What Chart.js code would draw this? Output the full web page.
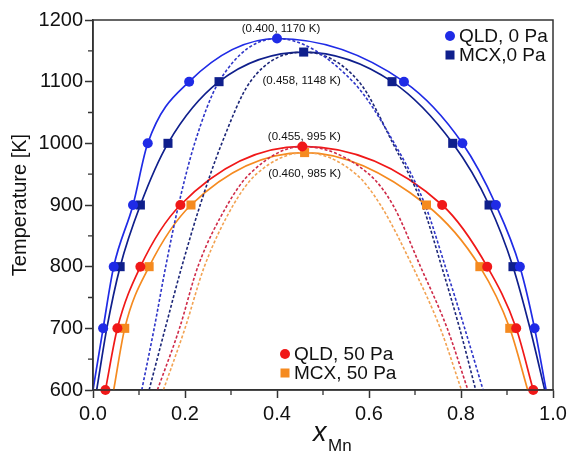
<!DOCTYPE html>
<html><head><meta charset="utf-8">
<script src="https://cdn.jsdelivr.net/npm/chart.js@4/dist/chart.umd.min.js"></script>
<style>html,body{margin:0;padding:0;background:#fff;}#wrap{width:570px;height:456px;position:relative;}</style>
</head><body><div id="wrap"><canvas id="c" width="570" height="456"></canvas></div>
<script>
// ---- tick values ----
const xTickValues = [0, 0.2, 0.4, 0.6, 0.8, 1.0];
const xMinorTicks = [0.1, 0.3, 0.5, 0.7, 0.9];
const yTickValues = [600, 700, 800, 900, 1000, 1100, 1200];
const yMinorTicks = [650, 750, 850, 950, 1050, 1150];

// ---- markers (data points) ----
const qld0X = [0.022, 0.045, 0.087, 0.119, 0.209, 0.400, 0.676, 0.803, 0.876, 0.928, 0.960];
const qld0T = [700, 800, 900, 1000, 1100, 1170, 1100, 1000, 900, 800, 700];
const mcx0X = [0.059, 0.103, 0.163, 0.274, 0.458, 0.650, 0.782, 0.861, 0.913];
const mcx0T = [800, 900, 1000, 1100, 1148, 1100, 1000, 900, 800];
const qld50X = [0.027, 0.053, 0.103, 0.190, 0.455, 0.759, 0.857, 0.920, 0.957];
const qld50T = [600, 700, 800, 900, 995, 900, 800, 700, 600];
const mcx50X = [0.069, 0.122, 0.213, 0.460, 0.725, 0.841, 0.906];
const mcx50T = [700, 800, 900, 985, 900, 800, 700];

// ---- solid (binodal) curves ----
const qld0LineX = [0.000, 0.022, 0.045, 0.087, 0.119, 0.209, 0.400, 0.676, 0.803, 0.876, 0.928, 0.960, 0.985];
const qld0LineT = [600, 700, 800, 900, 1000, 1100, 1170, 1100, 1000, 900, 800, 700, 600];
const mcx0LineX = [0.008, 0.030, 0.059, 0.103, 0.163, 0.274, 0.458, 0.650, 0.782, 0.861, 0.913, 0.950, 0.982];
const mcx0LineT = [600, 700, 800, 900, 1000, 1100, 1148, 1100, 1000, 900, 800, 700, 600];
const qld50LineX = [0.027, 0.053, 0.103, 0.190, 0.455, 0.759, 0.857, 0.920, 0.957];
const qld50LineT = [600, 700, 800, 900, 995, 900, 800, 700, 600];
const mcx50LineX = [0.045, 0.069, 0.122, 0.213, 0.460, 0.725, 0.841, 0.906, 0.945];
const mcx50LineT = [600, 700, 800, 900, 985, 900, 800, 700, 600];

// ---- dashed (spinodal) curves ----
const qld0SpinX = [0.106, 0.133, 0.158, 0.186, 0.221, 0.274, 0.400, 0.565, 0.655, 0.722, 0.766, 0.808, 0.848];
const qld0SpinT = [600, 700, 800, 900, 1000, 1100, 1170, 1100, 1000, 900, 800, 700, 600];
const mcx0SpinX = [0.122, 0.157, 0.193, 0.233, 0.280, 0.342, 0.458, 0.578, 0.652, 0.716, 0.758, 0.797, 0.832];
const mcx0SpinT = [600, 700, 800, 900, 1000, 1100, 1148, 1100, 1000, 900, 800, 700, 600];
const qld50SpinX = [0.140, 0.188, 0.228, 0.292, 0.340, 0.455, 0.600, 0.652, 0.712, 0.770, 0.815];
const qld50SpinT = [600, 700, 800, 900, 950, 995, 950, 900, 800, 700, 600];
const mcx50SpinX = [0.153, 0.200, 0.242, 0.305, 0.355, 0.460, 0.572, 0.625, 0.695, 0.755, 0.801];
const mcx50SpinT = [600, 700, 800, 900, 950, 985, 950, 900, 800, 700, 600];

// ---- annotations ----
const critLabels = ['(0.400, 1170 K)', '(0.458, 1148 K)', '(0.455, 995 K)', '(0.460, 985 K)'];
const critX = [0.400, 0.458, 0.455, 0.460];
const critT = [1170, 1148, 995, 985];
const legendTop = ['QLD, 0 Pa', 'MCX,0 Pa'];
const legendBottom = ['QLD, 50 Pa', 'MCX, 50 Pa'];

const FONT = '"Liberation Sans", Arial, Helvetica, sans-serif';
const C_BLUE = '#1f2be6', C_NAVY = '#0f1f8c', C_RED = '#f01818', C_ORANGE = '#f58a1f';
const C_BLUE_D = '#2e35c8', C_NAVY_D = '#1c2677', C_RED_D = '#cf2a48', C_ORANGE_D = '#f2a252';

const pts = (xs, ys) => xs.map((x, i) => ({x: x, y: ys[i]}));

function lineDS(xs, ys, color, dashed) {
  return {data: pts(xs, ys), showLine: true, borderColor: color, backgroundColor: color,
    borderWidth: dashed ? 1.6 : 1.7, borderDash: dashed ? [3, 2] : [], pointRadius: 0,
    pointHoverRadius: 0, cubicInterpolationMode: 'monotone', fill: false, order: 5};
}
function markDS(xs, ys, color, style, r) {
  return {data: pts(xs, ys), showLine: false, pointStyle: style, pointRadius: r,
    backgroundColor: color, borderColor: color, borderWidth: 0, order: 1};
}

const decor = {
  id: 'decor',
  afterDraw(chart) {
    const ctx = chart.ctx, a = chart.chartArea;
    const xs = chart.scales.x, ys = chart.scales.y;
    ctx.save();
    // frame
    ctx.strokeStyle = '#333'; ctx.lineWidth = 1.5;
    ctx.strokeRect(a.left, a.top, a.right - a.left, a.bottom - a.top);
    // minor ticks
    ctx.lineWidth = 1.3;
    ctx.beginPath();
    xMinorTicks.forEach(v => { const p = xs.getPixelForValue(v); ctx.moveTo(p, a.bottom); ctx.lineTo(p, a.bottom + 5); });
    yMinorTicks.forEach(v => { const p = ys.getPixelForValue(v); ctx.moveTo(a.left, p); ctx.lineTo(a.left - 5, p); });
    ctx.stroke();
    // x tick labels
    ctx.fillStyle = '#111'; ctx.font = '20px ' + FONT;
    ctx.textAlign = 'center'; ctx.textBaseline = 'middle';
    xTickValues.forEach(v => ctx.fillText(v.toFixed(1), xs.getPixelForValue(v), a.bottom + 24));
    // critical-point labels
    ctx.font = '11.5px ' + FONT;
    const off = [[4, -9.5], [-2, 29], [2, -9.5], [0, 21]];
    critLabels.forEach((t, i) => {
      ctx.fillText(t, xs.getPixelForValue(critX[i]) + off[i][0], ys.getPixelForValue(critT[i]) + off[i][1]);
    });
    // legends
    ctx.font = '19px ' + FONT; ctx.textAlign = 'left';
    function item(x, y, color, style, label) {
      ctx.fillStyle = color;
      if (style === 'circle') { ctx.beginPath(); ctx.arc(x, y, 5, 0, Math.PI * 2); ctx.fill(); }
      else ctx.fillRect(x - 4.5, y - 4.5, 9, 9);
      ctx.fillStyle = '#111';
      ctx.fillText(label, x + 9, y + 1);
    }
    item(a.right - 103, a.top + 16, C_BLUE, 'circle', legendTop[0]);
    item(a.right - 103, a.top + 35, C_NAVY, 'rect', legendTop[1]);
    item(285, a.bottom - 36, C_RED, 'circle', legendBottom[0]);
    item(285, a.bottom - 17, C_ORANGE, 'rect', legendBottom[1]);
    // x title
    const cx = (a.left + a.right) / 2;
    ctx.textBaseline = 'alphabetic';
    ctx.font = 'italic 27px ' + FONT;
    ctx.fillText('x', cx - 10, 441);
    ctx.font = '17px ' + FONT;
    ctx.fillText('Mn', cx + 5, 451);
    ctx.restore();
  }
};

new Chart(document.getElementById('c'), {
  type: 'scatter',
  data: {datasets: [
    lineDS(qld0SpinX, qld0SpinT, C_BLUE_D, true),
    lineDS(mcx0SpinX, mcx0SpinT, C_NAVY_D, true),
    lineDS(qld50SpinX, qld50SpinT, C_RED_D, true),
    lineDS(mcx50SpinX, mcx50SpinT, C_ORANGE_D, true),
    lineDS(qld0LineX, qld0LineT, C_BLUE, false),
    lineDS(mcx0LineX, mcx0LineT, C_NAVY, false),
    lineDS(qld50LineX, qld50LineT, C_RED, false),
    lineDS(mcx50LineX, mcx50LineT, C_ORANGE, false),
    markDS(qld0X, qld0T, C_BLUE, 'circle', 5),
    markDS(mcx0X, mcx0T, C_NAVY, 'rect', 6.4),
    markDS(qld50X, qld50T, C_RED, 'circle', 5),
    markDS(mcx50X, mcx50T, C_ORANGE, 'rect', 6.4)
  ]},
  options: {
    responsive: false, animation: false, devicePixelRatio: 1,
    layout: {padding: {top: 20, right: 17, left: 0, bottom: 0}},
    plugins: {legend: {display: false}, tooltip: {enabled: false}},
    events: [],
    clip: false,
    scales: {
      x: {type: 'linear', min: 0, max: 1,
        afterBuildTicks: s => { s.ticks = xTickValues.map(v => ({value: v})); },
        afterFit: s => { s.height = 66; },
        grid: {drawOnChartArea: false, tickLength: 8, tickColor: '#333', tickWidth: 1.5},
        border: {display: true, color: '#333', width: 1.5},
        ticks: {display: false}
      },
      y: {type: 'linear', min: 600, max: 1200,
        afterBuildTicks: s => { s.ticks = yTickValues.map(v => ({value: v})); },
        afterFit: s => { s.width = 93; },
        grid: {drawOnChartArea: false, tickLength: 8, tickColor: '#333', tickWidth: 1.5},
        border: {display: true, color: '#333', width: 1.5},
        ticks: {font: {size: 20, family: FONT}, color: '#111', padding: 2,
          callback: v => String(v)},
        title: {display: true, text: 'Temperature [K]', font: {size: 20, family: FONT}, color: '#111',
          padding: {top: 8, bottom: 0}}
      }
    }
  },
  plugins: [decor]
});
</script></body></html>
